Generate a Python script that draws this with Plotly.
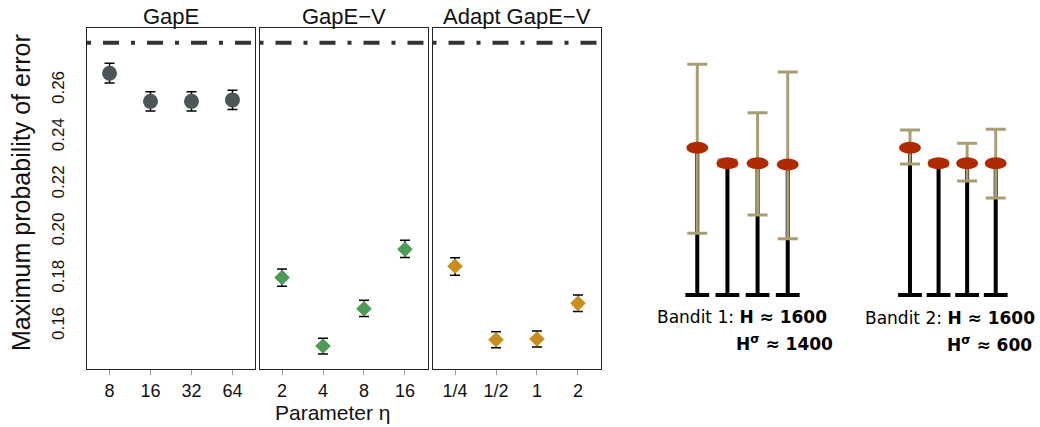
import plotly.graph_objects as go

# ---------------- data ----------------
gape_eta = ["8", "16", "32", "64"]
gape_mean = [0.2671, 0.2552, 0.2552, 0.2558]
gape_lo = [0.2630, 0.2511, 0.2511, 0.2517]
gape_hi = [0.2713, 0.2593, 0.2593, 0.2599]

gapev_eta = ["2", "4", "8", "16"]
gapev_mean = [0.1805, 0.1515, 0.1673, 0.1925]
gapev_lo = [0.1768, 0.1481, 0.1640, 0.1890]
gapev_hi = [0.1842, 0.1548, 0.1709, 0.1963]

adapt_eta = ["1/4", "1/2", "1", "2"]
adapt_mean = [0.1853, 0.1542, 0.1545, 0.1696]
adapt_lo = [0.1815, 0.1508, 0.1511, 0.1661]
adapt_hi = [0.1889, 0.1576, 0.1579, 0.1731]

uniform_error = 0.28
y_ticks = [0.16, 0.18, 0.20, 0.22, 0.24, 0.26]
panel_titles = ["GapE", "GapE\u2212V", "Adapt GapE\u2212V"]

# bandit diagrams (arbitrary normalised scale, 0 = base)
arms = [1, 2, 3, 4]
bandit1_mean = [0.589, 0.527, 0.527, 0.522]
bandit1_hi = [0.923, 0.540, 0.729, 0.892]
bandit1_lo = [0.247, 0.516, 0.320, 0.225]
bandit2_mean = [0.589, 0.527, 0.527, 0.527]
bandit2_hi = [0.660, 0.537, 0.607, 0.663]
bandit2_lo = [0.524, 0.516, 0.456, 0.388]
bandit_labels = [("Bandit 1: <b>H \u2248 1600</b>", "<b>H<sup>\u03c3</sup> \u2248 1400</b>"),
                 ("Bandit 2: <b>H \u2248 1600</b>", "<b>H<sup>\u03c3</sup> \u2248 600</b>")]

# ---------------- styles ----------------
W, H = 1040, 427
FONT = "Liberation Sans, Arial, sans-serif"
DJV = "DejaVu Sans, sans-serif"
col_gape = "#4b5659"
col_gapev = "#4e9a57"
col_adapt = "#c88e1c"
col_red = "#b02a00"
col_tan = "#a89e74"


def px_x(p):
    return p / W


def px_y(p):
    return 1 - p / H


panel_px = [(87, 255), (259.5, 427.5), (432.5, 600.5)]
y_dom = [px_y(369), px_y(28)]
y_range = [0.14178, 0.28627]

fig = go.Figure()

series = [
    (gape_eta, gape_mean, gape_lo, gape_hi, col_gape, "circle", 15),
    (gapev_eta, gapev_mean, gapev_lo, gapev_hi, col_gapev, "diamond", 12),
    (adapt_eta, adapt_mean, adapt_lo, adapt_hi, col_adapt, "diamond", 12),
]

for i, (eta, m, lo, hi, col, sym, sz) in enumerate(series):
    ax = "" if i == 0 else str(i + 1)
    fig.add_trace(go.Scatter(
        x=eta, y=m, mode="markers",
        marker=dict(color=col, symbol=sym, size=sz, line=dict(width=0)),
        error_y=dict(type="data", symmetric=False,
                     array=[h - v for h, v in zip(hi, m)],
                     arrayminus=[v - l for v, l in zip(m, lo)],
                     color="black", thickness=1.5, width=5),
        xaxis="x" + ax, yaxis="y" + ax, showlegend=False))
    fig.add_shape(type="line", xref="x" + ax + " domain", yref="y" + ax,
                  x0=0, x1=1, y0=uniform_error, y1=uniform_error,
                  line=dict(color="#333333", width=4, dash="4px,12px,16px,12px"))
    x0p, x1p = panel_px[i]
    fig.update_layout(**{
        "xaxis" + ax: dict(domain=[px_x(x0p), px_x(x1p)], anchor="y" + ax,
                           type="category", range=[-0.55, 3.55],
                           showline=True, mirror=True, linecolor="#222", linewidth=1,
                           ticks="outside", ticklen=5, tickcolor="#999", tickwidth=1,
                           showgrid=False, zeroline=False, automargin=False,
                           tickfont=dict(size=18, color="#111", family=FONT)),
        "yaxis" + ax: dict(domain=y_dom, anchor="x" + ax, range=y_range,
                           showline=True, mirror=True, linecolor="#222", linewidth=1,
                           showgrid=False, zeroline=False, automargin=False,
                           tickvals=y_ticks, ticktext=["%.2f" % v for v in y_ticks],
                           showticklabels=(i == 0), ticks="", tickangle=-90,
                           ticklabelstandoff=15,
                           tickfont=dict(size=17, color="#111", family=FONT)),
    })
    fig.add_annotation(text=panel_titles[i], xref="paper", yref="paper",
                       x=px_x((x0p + x1p) / 2), y=px_y(16.5), showarrow=False,
                       xanchor="center", yanchor="middle",
                       font=dict(size=22, color="#111", family=FONT))

fig.add_annotation(text="Maximum probability of error", xref="paper", yref="paper",
                   x=px_x(21.5), y=px_y(192.5), textangle=-90, showarrow=False,
                   xanchor="center", yanchor="middle",
                   font=dict(size=25, color="#111", family=FONT))
fig.add_annotation(text="Parameter \u03b7", xref="paper", yref="paper",
                   x=px_x(333), y=px_y(412), showarrow=False,
                   xanchor="center", yanchor="middle",
                   font=dict(size=21, color="#111", family=FONT))

# ---------------- bandit diagrams ----------------
bandits = [(bandit1_mean, bandit1_lo, bandit1_hi, (682.2, 802.8)),
           (bandit2_mean, bandit2_lo, bandit2_hi, (895.7, 1010.0))]
b_ydom = [px_y(295), px_y(45)]
label_pos = [((655, 317), (835, 343)), ((863, 318), (1034, 344))]

for j, (m, lo, hi, (dx0, dx1)) in enumerate(bandits):
    ax = str(4 + j)
    sx, sy = [], []
    for a, v in zip(arms, m):
        sx += [a, a, None]
        sy += [0, v, None]
    fig.add_trace(go.Scatter(x=sx, y=sy, mode="lines",
                             line=dict(color="black", width=4),
                             xaxis="x" + ax, yaxis="y" + ax, showlegend=False,
                             cliponaxis=False, hoverinfo="skip"))
    fig.add_trace(go.Scatter(x=arms, y=[0] * len(arms), mode="markers",
                             marker=dict(symbol="line-ew", size=17,
                                         line=dict(color="black", width=4)),
                             xaxis="x" + ax, yaxis="y" + ax, showlegend=False,
                             cliponaxis=False))
    fig.add_trace(go.Scatter(x=arms, y=m, mode="markers",
                             marker=dict(size=1, color="rgba(0,0,0,0)"),
                             error_y=dict(type="data", symmetric=False,
                                          array=[h - v for h, v in zip(hi, m)],
                                          arrayminus=[v - l for v, l in zip(m, lo)],
                                          color=col_tan, thickness=3, width=10),
                             xaxis="x" + ax, yaxis="y" + ax, showlegend=False,
                             cliponaxis=False))
    for a, v in zip(arms, m):
        fig.add_shape(type="circle", xref="x" + ax, yref="y" + ax,
                      xsizemode="pixel", ysizemode="pixel",
                      xanchor=a, yanchor=v, x0=-11, x1=11, y0=-6, y1=6,
                      fillcolor=col_red, line=dict(width=0))
    fig.update_layout(**{
        "xaxis" + ax: dict(domain=[px_x(dx0), px_x(dx1)], anchor="y" + ax,
                           range=[0.5, 4.5], visible=False),
        "yaxis" + ax: dict(domain=b_ydom, anchor="x" + ax, range=[0, 1],
                           visible=False),
    })
    (l1x, l1y), (l2x, l2y) = label_pos[j]
    fig.add_annotation(text=bandit_labels[j][0], xref="paper", yref="paper",
                       x=px_x(l1x), y=px_y(l1y), showarrow=False,
                       xanchor="left", yanchor="middle",
                       font=dict(size=17, color="black", family=DJV))
    fig.add_annotation(text=bandit_labels[j][1], xref="paper", yref="paper",
                       x=px_x(l2x), y=px_y(l2y), showarrow=False,
                       xanchor="right", yanchor="middle",
                       font=dict(size=17, color="black", family=DJV))

fig.update_layout(template="none", width=W, height=H,
                  margin=dict(l=0, r=0, t=0, b=0),
                  paper_bgcolor="white", plot_bgcolor="white",
                  font=dict(family=FONT), showlegend=False)

# remove the browser's default body margin so the figure fills the window
fig.write_html("out.html",
               config={"displayModeBar": False},
               post_script="document.body.style.margin='0';document.body.style.overflow='hidden';")
